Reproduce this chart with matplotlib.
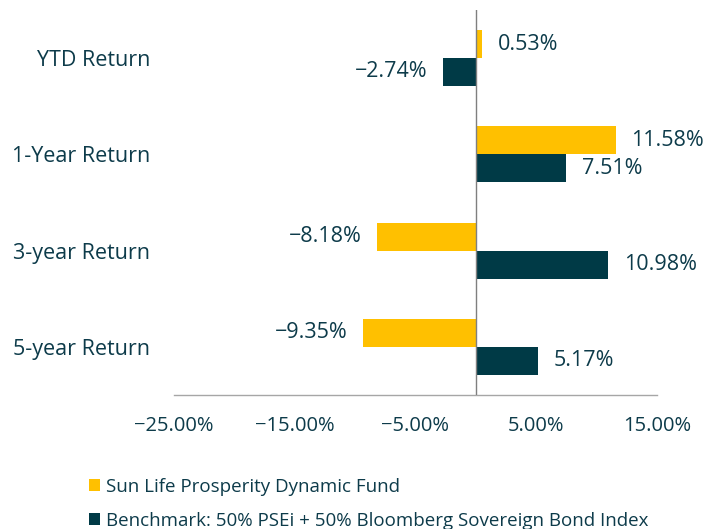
import matplotlib
matplotlib.use("Agg")
import matplotlib.pyplot as plt
import numpy as np

categories = ["YTD Return", "1-Year Return", "3-year Return", "5-year Return"]
fund = [0.53, 11.58, -8.18, -9.35]
bench = [-2.74, 7.51, 10.98, 5.17]
series_names = ["Sun Life Prosperity Dynamic Fund",
                "Benchmark: 50% PSEi + 50% Bloomberg Sovereign Bond Index"]
xticks = [-25, -15, -5, 5, 15]

YELLOW = "#FFC000"
DARK = "#003A46"
TEXT = "#0D3B4A"

plt.rcParams['font.family'] = ['Open Sans', 'DejaVu Sans']


def pct(v):
    s = f"{abs(v):.2f}%"
    return ("\u2212" + s) if v < 0 else s


fig = plt.figure(figsize=(7.04, 5.29), dpi=100)
ax = fig.add_axes([0.247, 0.2533, 0.686, 0.728])

y = np.arange(len(categories))
h = 0.29
b1 = ax.barh(y - h / 2, fund, height=h, color=YELLOW, label=series_names[0])
b2 = ax.barh(y + h / 2, bench, height=h, color=DARK, label=series_names[1])

for bars, vals in ((b1, fund), (b2, bench)):
    for rect, v in zip(bars, vals):
        yc = rect.get_y() + rect.get_height() / 2
        if v >= 0:
            ax.annotate(pct(v), (v, yc), xytext=(11, 0), textcoords="offset points",
                        ha="left", va="center", fontsize=15.5, color=TEXT)
        else:
            ax.annotate(pct(v), (v, yc), xytext=(-11, 0), textcoords="offset points",
                        ha="right", va="center", fontsize=15.5, color=TEXT)

ax.set_xlim(-25, 15)
ax.set_ylim(3.5, -0.5)
ax.set_yticks(y)
ax.set_yticklabels(categories, fontsize=15.5, color=TEXT)
ax.set_xticks(xticks)
ax.set_xticklabels([pct(t) for t in xticks], fontsize=14.5, color=TEXT)
ax.tick_params(axis='y', length=0, pad=17)
ax.tick_params(axis='x', length=0, pad=15)

for s in ("top", "right", "left"):
    ax.spines[s].set_visible(False)
ax.spines["bottom"].set_color("#A6A6A6")
ax.spines["bottom"].set_linewidth(1.0)
ax.axvline(0, color="#7F7F7F", linewidth=1.0, zorder=3)

fig.legend(handles=[b1, b2], loc="lower left", bbox_to_anchor=(0.102, -0.033),
           frameon=False, fontsize=13.5, handlelength=0.6, handleheight=0.6,
           handletextpad=0.3, labelspacing=0.85, labelcolor=TEXT)

fig.savefig("out.png", dpi=100)
